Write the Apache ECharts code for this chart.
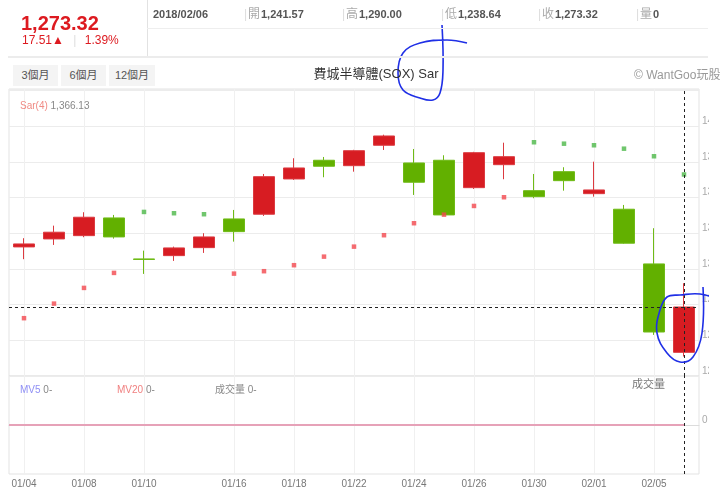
<!DOCTYPE html>
<html><head><meta charset="utf-8">
<script src="https://cdn.jsdelivr.net/npm/echarts@6/dist/echarts.min.js"></script>
<style>
html,body{margin:0;padding:0;background:#fff;width:720px;height:492px;overflow:hidden;font-family:"Liberation Sans","Noto Sans CJK TC",sans-serif;}
#chart{position:absolute;left:0;top:0;width:720px;height:492px;}
.a{position:absolute;white-space:nowrap;line-height:1;}
.lbl{color:#aaa;font-size:12px;}
.val{color:#555;font-size:11px;font-weight:bold;}
.sep{color:#ddd;font-size:12px;}
.btn{position:absolute;top:65px;height:21px;line-height:21px;background:#f4f4f4;color:#555;font-size:11px;text-align:center;}
.clip{position:absolute;left:709px;top:89px;width:11px;height:390px;background:#fff;}
</style></head>
<body>
<div id="chart"></div>
<div class="clip"></div>
<div id="hdr"></div>
<script>
// ---- data ----
const dates = ['01/04','01/05','01/08','01/09','01/10','01/11','01/12','01/16','01/17','01/18','01/19','01/22','01/23','01/24','01/25','01/26','01/29','01/30','01/31','02/01','02/02','02/05','02/06'];
const openV  = [1315.4,1321.0,1323.3,1335.7,1307.0,1309.3,1314.9,1335.0,1338.3,1363.0,1376.1,1372.3,1386.6,1374.2,1376.1,1356.9,1373.0,1354.8,1368.1,1352.7,1341.8,1303.5,1241.57];
const closeV = [1317.5,1325.7,1336.2,1322.4,1306.6,1314.7,1322.4,1326.1,1364.6,1370.7,1371.9,1382.8,1393.1,1360.7,1337.8,1381.4,1378.6,1350.6,1361.8,1355.3,1318.0,1255.81,1273.32];
const lowV   = [1306.8,1316.8,1322.2,1321.2,1296.5,1305.6,1311.2,1319.1,1337.1,1362.3,1364.2,1368.1,1383.3,1351.8,1337.4,1356.0,1362.8,1349.5,1354.8,1350.6,1317.6,1253.8,1238.64];
const highV  = [1321.5,1330.3,1339.7,1337.8,1312.8,1315.6,1325.0,1341.3,1366.5,1377.5,1378.4,1383.4,1394.0,1384.0,1379.6,1382.0,1388.4,1366.5,1371.2,1375.1,1344.8,1328.5,1290.00];
const sarBelow = [1265.5,1275.7,1286.7,1297.2,'-','-','-',1296.7,1298.4,1302.6,1308.6,1315.6,1323.6,1332.0,1338.0,1344.1,1350.2,'-','-','-','-','-','-'];
const sarAbove = ['-','-','-','-',1339.9,1339.0,1338.3,'-','-','-','-','-','-','-','-','-','-',1388.7,1387.7,1386.6,1384.2,1378.9,1366.13];
const volume = [0,0,0,0,0,0,0,0,0,0,0,0,0,0,0,0,0,0,0,0,0,0,0];
const mv5  = [0,0,0,0,0,0,0,0,0,0,0,0,0,0,0,0,0,0,0,0,0,0,0];
const mv20 = [0,0,0,0,0,0,0,0,0,0,0,0,0,0,0,0,0,0,0,0,0,0,0];
const labeledDates = ['01/04','01/08','01/10','01/16','01/18','01/22','01/24','01/26','01/30','02/01','02/05'];
const priceTicks = {min:1225, max:1426, interval:25, lastLabel:1400};
const fullDate = '2018/02/06';
const titleText = '費城半導體(SOX) Sar';

// ---- header ----
const L = dates.length - 1;
const fmt = v => v.toLocaleString('en-US',{minimumFractionDigits:2, maximumFractionDigits:2});
const chg = closeV[L] - closeV[L-1];
const pct = chg / closeV[L-1] * 100;
const hdr = document.getElementById('hdr');
function add(html, css, cls){const d=document.createElement('div');d.className='a '+(cls||'');d.innerHTML=html;d.style.cssText+=css;hdr.appendChild(d);return d;}
add('', 'left:147px;top:0;width:1px;height:57px;background:#e2e2e2;');
add('', 'left:147px;top:28px;width:561px;height:1px;background:#eeeeee;');
add('', 'left:8px;top:56px;width:700px;height:2px;background:#ececec;');
add(fmt(closeV[L]), 'left:21px;top:13px;font-size:20px;font-weight:bold;color:#dd1a20;');
add(fmt(chg)+'▲ <span style="color:#ddd;margin:0 5px 0 6px">|</span> '+pct.toFixed(2)+'%', 'left:22px;top:34px;font-size:12px;color:#dd1a20;');
add(fullDate, 'left:153px;top:9px;', 'val');
const info = [['開',openV[L],244],['高',highV[L],342],['低',lowV[L],441],['收',closeV[L],538],['量',volume[L],636]];
info.forEach(([k,v,x])=>{
  add('|', 'left:'+x+'px;top:8px;', 'sep');
  add(k, 'left:'+(x+4)+'px;top:8px;', 'lbl');
  add(k==='量'? String(v) : fmt(v), 'left:'+(x+17)+'px;top:9px;', 'val');
});
[['3個月',13,45],['6個月',61,45],['12個月',109,46]].forEach(([t,x,w])=>{
  const b=document.createElement('div');b.className='btn';b.textContent=t;b.style.left=x+'px';b.style.width=w+'px';hdr.appendChild(b);
});
add(titleText, 'left:376px;top:67px;font-size:13px;color:#333;transform:translateX(-50%);');
add('© WantGoo玩股', 'left:634px;top:69px;font-size:12px;color:#999;');

// ---- chart ----
const red = '#d71c22', green = '#62b000', pink = '#e6a2b8';
const showLbl = (i, v) => labeledDates.indexOf(dates[i]) >= 0;
const chart = echarts.init(document.getElementById('chart'));
const font = '"Liberation Sans","Noto Sans CJK TC",sans-serif';
const gridLeft = 9;
const option = {
  animation: false,
  textStyle: {fontFamily: font},
  grid: [
    {left:gridLeft, width:690, top:89, height:287, show:true, borderColor:'#e3e3e3', borderWidth:1, containLabel:false, outerBoundsMode:'none'},
    {left:gridLeft, width:690, top:376, height:98, show:true, borderColor:'#e3e3e3', borderWidth:1, containLabel:false, outerBoundsMode:'none'}
  ],
  xAxis: [
    {type:'category', gridIndex:0, data:dates, axisLine:{show:false}, axisTick:{show:false}, axisLabel:{show:false},
     splitLine:{show:true, alignWithLabel:true, interval:showLbl, lineStyle:{color:'#f0f0f0'}}},
    {type:'category', gridIndex:1, data:dates, axisLine:{show:true, lineStyle:{color:'#dcdcdc'}}, axisTick:{show:false},
     axisLabel:{interval:showLbl, color:'#777', fontSize:10, margin:5, fontFamily:font},
     splitLine:{show:true, alignWithLabel:true, interval:showLbl, lineStyle:{color:'#f0f0f0'}}}
  ],
  yAxis: [
    {type:'value', gridIndex:0, position:'right', min:priceTicks.min, max:priceTicks.max, interval:priceTicks.interval,
     axisLine:{show:false}, axisTick:{show:false},
     axisLabel:{formatter:v => v <= priceTicks.lastLabel ? String(v) : '', color:'#aaa', fontSize:10, margin:3, verticalAlign:'bottom', fontFamily:font},
     splitLine:{show:true, lineStyle:{color:'#ececec'}}},
    {type:'value', gridIndex:1, position:'right', min:-1, max:1, interval:1,
     axisLine:{show:false}, axisTick:{show:false}, splitLine:{show:false},
     axisLabel:{formatter:v => v === 0 ? '0' : '', color:'#aaa', fontSize:10, margin:3, verticalAlign:'bottom', fontFamily:font}}
  ],
  series: [
    {type:'candlestick', name:'K', xAxisIndex:0, yAxisIndex:0, barWidth:21,
     data: dates.map((d,i)=>[openV[i], closeV[i], lowV[i], highV[i]]),
     itemStyle:{color:red, color0:green, borderColor:'#dc3a40', borderColor0:'#6fbb16', borderWidth:1},
     markLine:{silent:true, symbol:['none','none'], label:{show:false}, animation:false,
       lineStyle:{color:'#222', type:[3,3], width:1},
       data:[{xAxis:dates[L]}, {yAxis:closeV[L]}]}},
    {type:'scatter', name:'SAR+', xAxisIndex:0, yAxisIndex:0, symbol:'rect', symbolSize:4.5, data:sarBelow, itemStyle:{color:'#f2474d'}},
    {type:'scatter', name:'SAR-', xAxisIndex:0, yAxisIndex:0, symbol:'rect', symbolSize:4.5, data:sarAbove, itemStyle:{color:'#4cb848'}},
    {id:'vol', type:'bar', name:'成交量', xAxisIndex:1, yAxisIndex:1, data:volume, itemStyle:{color:'#ccc'}},
    {type:'line', name:'MV5', xAxisIndex:1, yAxisIndex:1, data:mv5, showSymbol:false, lineStyle:{color:'#9a9aff', width:2}},
    {type:'line', name:'MV20', xAxisIndex:1, yAxisIndex:1, data:mv20, showSymbol:false, lineStyle:{color:pink, width:2},
     markLine:{silent:true, symbol:['none','none'], label:{show:false}, animation:false,
       lineStyle:{color:'#222', type:[3,3], width:1}, data:[{xAxis:dates[L]}]}}
  ],
  graphic: [
    {type:'text', left:20, top:101, z:20, style:{text:'{a|Sar(4)} {b|'+fmt(sarAbove[L])+'}', font:'10px '+font,
      rich:{a:{fill:'#f08a84', fontSize:10, fontFamily:font}, b:{fill:'#888', fontSize:10, fontFamily:font}}}},
    {type:'text', left:20, top:385, z:20, style:{text:'{a|MV5}{b| '+mv5[L]+'-}', font:'10px '+font,
      rich:{a:{fill:'#8f8ff5', fontSize:10, fontFamily:font}, b:{fill:'#888', fontSize:10, fontFamily:font}}}},
    {type:'text', left:117, top:385, z:20, style:{text:'{a|MV20}{b| '+mv20[L]+'-}', font:'10px '+font,
      rich:{a:{fill:'#f07f7f', fontSize:10, fontFamily:font}, b:{fill:'#888', fontSize:10, fontFamily:font}}}},
    {type:'text', left:215, top:385, z:20, style:{text:'成交量 '+volume[L]+'-', fill:'#888', font:'10px '+font}},
    {type:'text', left:632, top:379, z:20, style:{text:'成交量', fill:'#777', font:'11px '+font}},
    {type:'polyline', z:30, silent:true, shape:{smooth:0.4, points:[[467,43],[447,40],[420,43],[403,53],[398,73],[403,90],[420,98],[433,100],[440,93],[443,70],[442,25]]},
      style:{stroke:'#1f2fe6', lineWidth:1.6, fill:null}},
    {type:'polyline', z:30, silent:true, shape:{smooth:0.4, points:[[720,300],[700,294],[680,295],[667,297],[660,310],[657,333],[667,353],[680,362],[693,357],[702,333],[703,287]]},
      style:{stroke:'#1f2fe6', lineWidth:1.6, fill:null}}
  ]
};
chart.setOption(option);
// extend the MV20 zero line to the left edge of the panel (as in the source chart)
const y0 = chart.convertToPixel({yAxisIndex:1}, mv20[0]);
chart.setOption({series:[{id:'vol', markLine:{silent:true, symbol:['none','none'], label:{show:false}, animation:false,
  lineStyle:{color:pink, type:'solid', width:2},
  data:[[{x:gridLeft, y:y0}, {coord:[dates[0], mv20[0]]}]]}}]});
</script>
</body></html>
